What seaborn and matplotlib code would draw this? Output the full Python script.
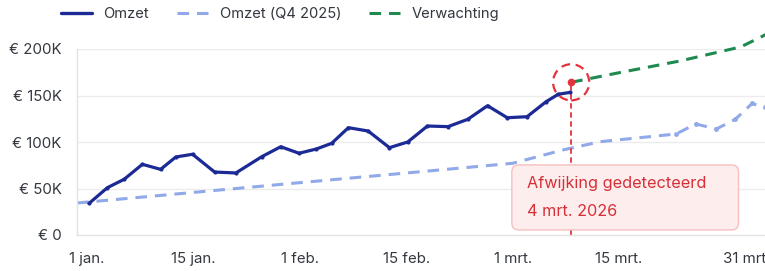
import matplotlib
matplotlib.use("Agg")
import matplotlib.pyplot as plt
import seaborn as sns
from matplotlib.lines import Line2D
from matplotlib.patches import Circle, FancyBboxPatch
from matplotlib.transforms import Affine2D, ScaledTranslation

# x = positie op de tijdas (ongeveer dagen vanaf 1 jan.), y = omzet in euro
omzet_dag = [0.3, 2.7, 4.9, 7.3, 9.7, 11.7, 13.9, 16.8, 19.6, 23.0, 25.5, 27.9, 30.2, 32.2,
             34.4, 37.0, 39.8, 42.2, 44.8, 47.5, 50.1, 52.7, 55.3, 57.9, 60.4, 62.0, 63.6]
omzet = [34100, 50900, 59900, 76000, 70600, 83900, 86800, 67700, 66700, 84200, 94900, 87900,
         92500, 98600, 115400, 111800, 93900, 100000, 117200, 116500, 124400, 139000, 126100,
         127200, 143300, 151300, 153400]

q4_dag = [-1.3, 13.9, 27.9, 42.2, 56.0, 62.6, 67.5, 77.5, 80.1, 82.8, 85.3, 87.5, 89.2, 91.0]
q4_omzet = [34400, 45700, 56200, 66800, 77100, 91400, 100300, 108600, 119400, 114000, 124400,
            141400, 137100, 133000]

verw_dag = [63.7, 70.0, 78.0, 86.0, 90.0]
verwachting = [164200, 174500, 187100, 202200, 218300]

afwijking_dag = 63.7
afwijking_omzet = 164200
afwijking_tekst = ["Afwijking gedetecteerd", "4 mrt. 2026"]

x_ticks = [0, 14, 28, 42, 56, 70, 86.8]
x_labels = ["1 jan.", "15 jan.", "1 feb.", "15 feb.", "1 mrt.", "15 mrt.", "31 mrt."]
y_ticks = [0, 50000, 100000, 150000, 200000]
y_labels = ["€ 0", "€ 50K", "€ 100K", "€ 150K", "€ 200K"]

donkerblauw = "#1c2a96"
lichtblauw = "#91a9e8"
groen = "#1f8a4f"
rood = "#e3343c"
tekstkleur = "#33373f"

sns.set_theme(style="white")
plt.rcParams["font.family"] = ["Inter", "DejaVu Sans"]

fig = plt.figure(figsize=(7.65, 2.71), dpi=100)
ax = fig.add_axes([77 / 765, 36 / 271, 1 - 77 / 765, 186 / 271])

# vorige periode (gestippeld)
sns.lineplot(x=q4_dag, y=q4_omzet, ax=ax, color=lichtblauw, linewidth=2.2,
             linestyle=(0, (3.8, 2.6)), marker="o", markersize=3.5, markeredgewidth=0,
             markevery=list(range(7, len(q4_dag))), zorder=2)
# verwachting
sns.lineplot(x=verw_dag, y=verwachting, ax=ax, color=groen, linewidth=2.2,
             linestyle=(0, (3.8, 2.6)), zorder=2, clip_on=False)
# omzet
sns.lineplot(x=omzet_dag, y=omzet, ax=ax, color=donkerblauw, linewidth=2.3,
             marker="o", markersize=3, markeredgewidth=0, zorder=3)

ax.set_xlim(-1.3, 89.2)
ax.set_ylim(0, 200000)
ax.set_xticks(x_ticks, x_labels)
ax.set_yticks(y_ticks, y_labels)
ax.tick_params(axis="both", length=0, labelsize=10.8, colors=tekstkleur)
ax.tick_params(axis="y", pad=11)
ax.tick_params(axis="x", pad=12)
ax.yaxis.grid(True, color="#ececec", linewidth=1)
ax.xaxis.grid(False)
for side in ["top", "right"]:
    ax.spines[side].set_visible(False)
for side in ["left", "bottom"]:
    ax.spines[side].set_color("#e2e2e2")
    ax.spines[side].set_linewidth(1)
ax.set_xlabel("")
ax.set_ylabel("")

# afwijking markeren
ax.vlines(afwijking_dag, 0, afwijking_omzet, colors=rood, linestyles=(0, (3, 2)),
          linewidth=1.3, zorder=2.5)
ax.plot(afwijking_dag, afwijking_omzet, "o", color=rood, markersize=4.5, zorder=6)

off = Affine2D().scale(fig.dpi / 72) + ScaledTranslation(afwijking_dag, afwijking_omzet, ax.transData)
ax.add_patch(Circle((0, 0), 13, transform=off, fill=False, edgecolor=rood, linewidth=1.6,
                    linestyle=(0, (4, 2.5)), zorder=5, clip_on=False))
ax.add_patch(FancyBboxPatch((-42.7, -106.3), 163.2, 46.8, boxstyle="round,pad=0,rounding_size=5",
                            transform=off, facecolor="#fdeded", edgecolor="#f6c0c0",
                            linewidth=1, zorder=4, clip_on=False))
ax.annotate(afwijking_tekst[0], xy=(afwijking_dag, afwijking_omzet), xytext=(-31.7, -73),
            textcoords="offset points", ha="left", va="center", color="#d62f37",
            fontsize=11.7, zorder=7)
ax.annotate(afwijking_tekst[1], xy=(afwijking_dag, afwijking_omzet), xytext=(-31.7, -93),
            textcoords="offset points", ha="left", va="center", color="#d62f37",
            fontsize=11.7, zorder=7)

handles = [
    Line2D([], [], color=donkerblauw, linewidth=2.4),
    Line2D([], [], color=lichtblauw, linewidth=2.2, linestyle=(0, (3.8, 2.6))),
    Line2D([], [], color=groen, linewidth=2.2, linestyle=(0, (3.8, 2.6))),
]
fig.legend(handles, ["Omzet", "Omzet (Q4 2025)", "Verwachting"], loc="center",
           bbox_to_anchor=(280 / 765, 1 - 14 / 271), ncol=3, frameon=False,
           handlelength=2.1, columnspacing=1.9, handletextpad=0.8, fontsize=10.6,
           labelcolor=tekstkleur)

fig.savefig("out.png", dpi=100)
